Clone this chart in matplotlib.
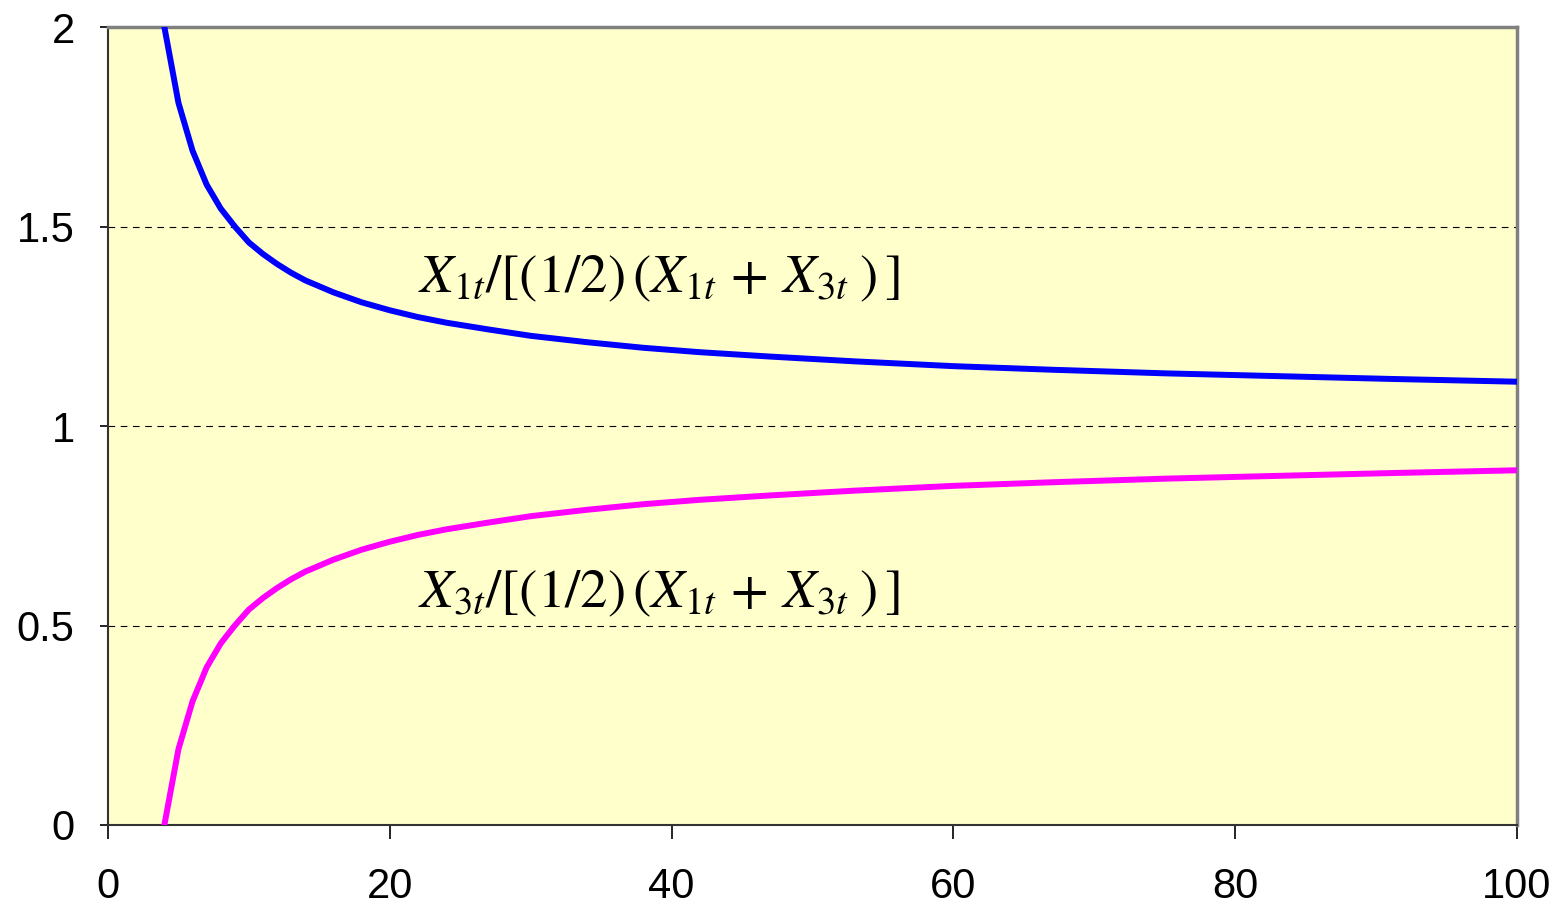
import matplotlib
matplotlib.use("Agg")
import matplotlib.pyplot as plt

# ratio of each series to the two-series average
t = [4, 5, 6, 7, 8, 9, 10, 11, 12, 13, 14, 16, 18, 20, 22, 24, 27, 30, 34, 38,
     42, 47, 53, 60, 67, 75, 83, 91, 100]
x1_ratio = [2.000, 1.810, 1.690, 1.605, 1.545, 1.500, 1.460, 1.431, 1.406, 1.384,
            1.365, 1.335, 1.310, 1.290, 1.273, 1.259, 1.242, 1.226, 1.210, 1.196,
            1.185, 1.174, 1.162, 1.150, 1.141, 1.132, 1.125, 1.118, 1.111]
x3_ratio = [0.000, 0.190, 0.310, 0.395, 0.455, 0.500, 0.540, 0.569, 0.594, 0.616,
            0.635, 0.665, 0.690, 0.710, 0.727, 0.741, 0.758, 0.774, 0.790, 0.804,
            0.815, 0.826, 0.838, 0.850, 0.859, 0.868, 0.875, 0.882, 0.889]

x_ticks = [0, 20, 40, 60, 80, 100]
y_ticks = [0, 0.5, 1, 1.5, 2]
y_tick_labels = ['0', '0.5', '1', '1.5', '2']

label_x1 = r'$X_{1t}/[(1/2)\,(X_{1t}\,+\,X_{3t}\;)\,]$'
label_x3 = r'$X_{3t}/[(1/2)\,(X_{1t}\,+\,X_{3t}\;)\,]$'

plt.rcParams['font.family'] = ['Liberation Sans', 'DejaVu Sans']
plt.rcParams['mathtext.fontset'] = 'stix'

fig = plt.figure(figsize=(15.63, 9.08), dpi=100)
ax = fig.add_axes([108 / 1563, 1 - 825 / 908, (1517 - 108) / 1563, (825 - 27) / 908])
ax.set_facecolor('#FFFFCC')

for yv in [0.5, 1, 1.5]:
    ax.axhline(yv, color='black', lw=0.8, ls=(0, (6, 5)), zorder=1)

ax.plot(t, x1_ratio, color='#0000FF', lw=4.3, zorder=3, solid_joinstyle='round')
ax.plot(t, x3_ratio, color='#FF00FF', lw=4.3, zorder=3, solid_joinstyle='round')

ax.text(22.0, 1.336, label_x1, fontsize=39.5, va='baseline', ha='left', color='black')
ax.text(22.0, 0.546, label_x3, fontsize=39.5, va='baseline', ha='left', color='black')

ax.set_xlim(0, 100)
ax.set_ylim(0, 2)
ax.set_xticks(x_ticks)
ax.set_yticks(y_ticks)
ax.set_yticklabels(y_tick_labels)
ax.tick_params(axis='x', direction='out', length=10, width=1.2, labelsize=30, pad=20)
ax.tick_params(axis='y', direction='out', length=6, width=1.2, labelsize=30, pad=18)

for side in ['top', 'right']:
    ax.spines[side].set_color('#808080')
    ax.spines[side].set_linewidth(2.5)
for side in ['left', 'bottom']:
    ax.spines[side].set_color('#333333')
    ax.spines[side].set_linewidth(1.5)

fig.savefig('out.png', dpi=100, facecolor='white')
